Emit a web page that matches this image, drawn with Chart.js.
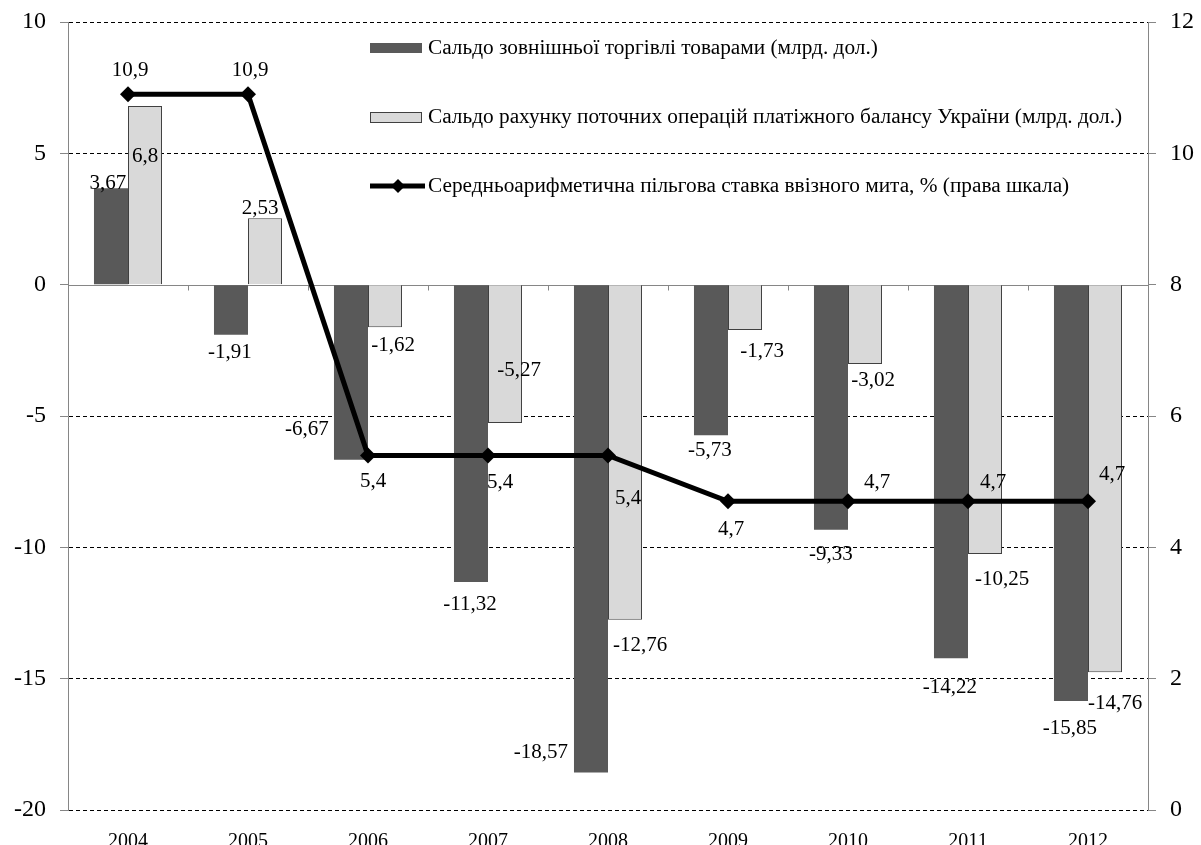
<!DOCTYPE html>
<html>
<head>
<meta charset="utf-8">
<script src="https://cdn.jsdelivr.net/npm/chart.js@4"></script>
<style>
  html, body { margin: 0; padding: 0; background: #fff; overflow: hidden; }
</style>
</head>
<body>
<canvas id="chart" width="1201" height="845"></canvas>
<script>
// Дані
const years = ['2004', '2005', '2006', '2007', '2008', '2009', '2010', '2011', '2012'];
const tradeBalance = [3.67, -1.91, -6.67, -11.32, -18.57, -5.73, -9.33, -14.22, -15.85];
const currentAccount = [6.8, 2.53, -1.62, -5.27, -12.76, -1.73, -3.02, -10.25, -14.76];
const dutyRate = [10.9, 10.9, 5.4, 5.4, 5.4, 4.7, 4.7, 4.7, 4.7];
const leftTicks = [-20, -15, -10, -5, 0, 5, 10];
const rightTicks = [0, 2, 4, 6, 8, 10, 12];

const seriesNames = [
  'Сальдо зовнішньої торгівлі товарами (млрд. дол.)',
  'Сальдо рахунку поточних операцій платіжного балансу України (млрд. дол.)',
  'Середньоарифметична пільгова ставка ввізного мита, % (права шкала)'
];

// зсуви підписів відносно кінця стовпчика / точки [dx, dy]
const tradeLabelShift = [[-3, -5], [-1, 18], [-44, -30], [-1, 22], [-50, -20], [-1, 15], [0, 25], [-1, 29], [-1, 27]];
const accountLabelShift = [[0, 50], [-5, -10], [8, 18], [14, -53], [15, 26], [17, 21], [8, 16], [17, 26], [10, 31]];
const rateLabelShift = [[2, -24], [2, -24], [5, 26], [12, 27], [20, 43], [3, 28], [29, -19], [25, -19], [24, -27]];

const FONT = "'Liberation Serif', 'DejaVu Serif', serif";
const DARK = '#595959';
const LIGHT = '#d9d9d9';
const AXIS = '#868686';

function fmt(v) {
  return String(v).replace('.', ',');
}

// підписи значень
const valueLabels = {
  id: 'valueLabels',
  afterDatasetsDraw(chart) {
    const ctx = chart.ctx;
    const shifts = [tradeLabelShift, accountLabelShift, rateLabelShift];
    ctx.save();
    ctx.font = '21px ' + FONT;
    ctx.fillStyle = '#000';
    ctx.textAlign = 'center';
    ctx.textBaseline = 'middle';
    chart.data.datasets.forEach((ds, di) => {
      const meta = chart.getDatasetMeta(di);
      meta.data.forEach((el, i) => {
        const s = shifts[di][i];
        ctx.fillText(fmt(ds.data[i]), el.x + s[0], el.y + s[1]);
      });
    });
    ctx.restore();
  }
};

// вісь категорій на нулі: суцільна сіра лінія з короткими рисками
const zeroLine = {
  id: 'zeroLine',
  beforeDatasetsDraw(chart) {
    const ctx = chart.ctx;
    const area = chart.chartArea;
    const y = Math.round(chart.scales.y.getPixelForValue(0)) + 0.5;
    const step = (area.right - area.left) / years.length;
    ctx.save();
    ctx.strokeStyle = AXIS;
    ctx.lineWidth = 1;
    ctx.beginPath();
    ctx.moveTo(area.left, y);
    ctx.lineTo(area.right, y);
    for (let k = 1; k < years.length; k++) {
      const x = Math.round(area.left + k * step) + 0.5;
      ctx.moveTo(x, y);
      ctx.lineTo(x, y + 5);
    }
    ctx.stroke();
    ctx.restore();
  }
};

// легенда всередині області графіка
const insideLegend = {
  id: 'insideLegend',
  afterDraw(chart) {
    const ctx = chart.ctx;
    const x0 = 370;
    const rows = [48, 117, 186];
    ctx.save();
    ctx.font = '21.3px ' + FONT;
    ctx.textBaseline = 'middle';
    ctx.textAlign = 'left';

    ctx.fillStyle = DARK;
    ctx.fillRect(x0, rows[0] - 5, 52, 10);

    ctx.fillStyle = LIGHT;
    ctx.fillRect(x0, rows[1] - 5, 52, 10);
    ctx.strokeStyle = '#404040';
    ctx.lineWidth = 1;
    ctx.strokeRect(x0 + 0.5, rows[1] - 4.5, 51, 10);

    ctx.strokeStyle = '#000';
    ctx.lineWidth = 5;
    ctx.beginPath();
    ctx.moveTo(x0, rows[2]);
    ctx.lineTo(x0 + 55, rows[2]);
    ctx.stroke();
    ctx.fillStyle = '#000';
    ctx.beginPath();
    ctx.moveTo(x0 + 28, rows[2] - 7);
    ctx.lineTo(x0 + 35, rows[2]);
    ctx.lineTo(x0 + 28, rows[2] + 7);
    ctx.lineTo(x0 + 21, rows[2]);
    ctx.closePath();
    ctx.fill();

    ctx.fillStyle = '#000';
    seriesNames.forEach((name, i) => ctx.fillText(name, x0 + 58, rows[i]));
    ctx.restore();
  }
};

function noVerticalPad(scale) {
  scale.paddingTop = 0;
  scale.paddingBottom = 0;
}

new Chart(document.getElementById('chart'), {
  type: 'bar',
  data: {
    labels: years,
    datasets: [
      {
        label: seriesNames[0],
        data: tradeBalance,
        backgroundColor: DARK,
        borderWidth: 0,
        yAxisID: 'y',
        order: 2
      },
      {
        label: seriesNames[1],
        data: currentAccount,
        backgroundColor: LIGHT,
        borderColor: '#404040',
        borderWidth: 1,
        yAxisID: 'y',
        order: 2
      },
      {
        type: 'line',
        label: seriesNames[2],
        data: dutyRate,
        borderColor: '#000',
        borderWidth: 5,
        pointStyle: 'rectRot',
        pointRadius: 8,
        pointBackgroundColor: '#000',
        pointBorderColor: '#000',
        pointBorderWidth: 0,
        tension: 0,
        yAxisID: 'y1',
        order: 0
      }
    ]
  },
  options: {
    responsive: false,
    devicePixelRatio: 1,
    animation: false,
    layout: { padding: { top: 22, left: 0, right: 0, bottom: 0 } },
    datasets: {
      bar: { categoryPercentage: 0.567, barPercentage: 1.0 }
    },
    plugins: {
      legend: { display: false },
      tooltip: { enabled: false }
    },
    scales: {
      x: {
        grid: { display: false },
        border: { display: false },
        ticks: { color: '#000', font: { family: FONT, size: 20 }, padding: 12, maxRotation: 0 },
        afterFit(scale) {
          scale.height = 35;
          scale.paddingLeft = 0;
          scale.paddingRight = 0;
        }
      },
      y: {
        position: 'left',
        min: -20,
        max: 10,
        afterBuildTicks(scale) { scale.ticks = leftTicks.map(v => ({ value: v })); },
        afterFit(scale) {
          scale.width = 68;
          noVerticalPad(scale);
        },
        ticks: { color: '#000', font: { family: FONT, size: 24 }, padding: 14 },
        grid: {
          color: ctx => (ctx.tick && ctx.tick.value === 0) ? 'rgba(0,0,0,0)' : '#000',
          tickColor: AXIS,
          tickLength: 8,
          tickBorderDash: [],
          lineWidth: 1
        },
        border: { color: AXIS, width: 1, dash: [4, 3] }
      },
      y1: {
        position: 'right',
        min: 0,
        max: 12,
        afterBuildTicks(scale) { scale.ticks = rightTicks.map(v => ({ value: v })); },
        afterFit(scale) {
          scale.width = 53;
          noVerticalPad(scale);
        },
        ticks: { color: '#000', font: { family: FONT, size: 24 }, padding: 14 },
        grid: { drawOnChartArea: false, tickColor: AXIS, tickLength: 8 },
        border: { color: AXIS, width: 1 }
      }
    }
  },
  plugins: [zeroLine, valueLabels, insideLegend]
});
</script>
</body>
</html>
